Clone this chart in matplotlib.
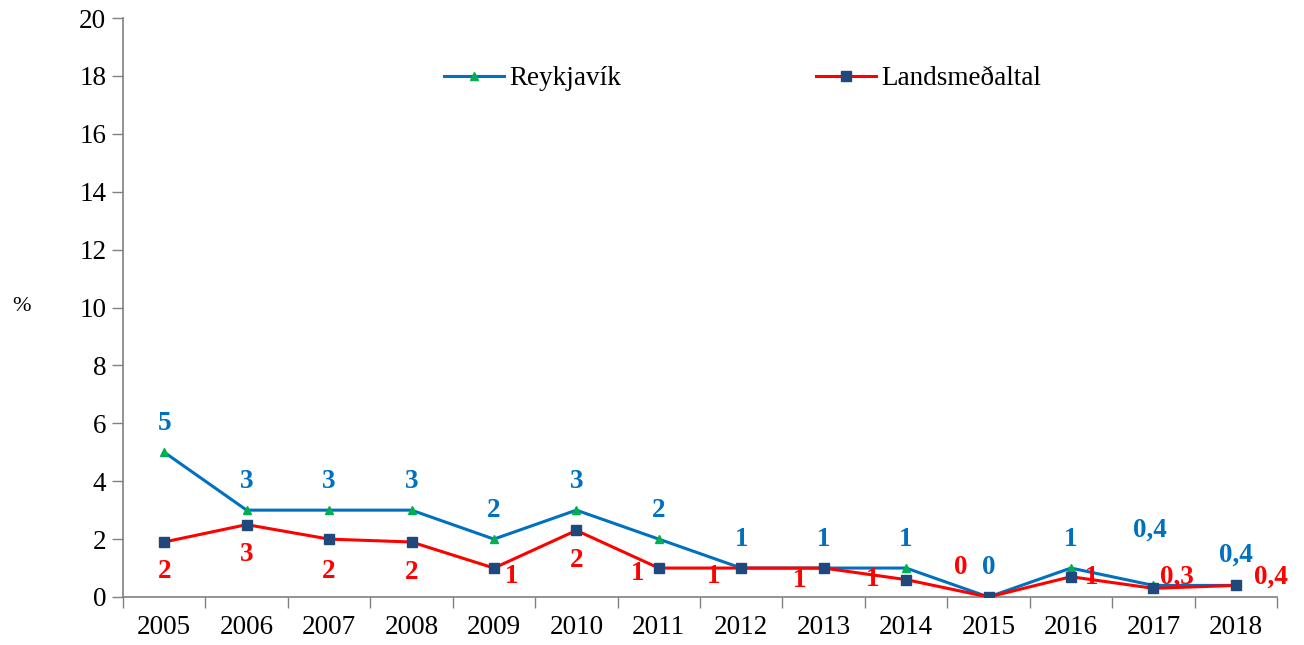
import matplotlib
matplotlib.use("Agg")
import matplotlib.pyplot as plt
import numpy as np

plt.rcParams['font.family'] = ['Liberation Serif', 'DejaVu Serif']

years = ['2005', '2006', '2007', '2008', '2009', '2010', '2011',
         '2012', '2013', '2014', '2015', '2016', '2017', '2018']
reykjavik = [5, 3, 3, 3, 2, 3, 2, 1, 1, 1, 0, 1, 0.4, 0.4]
lands = [1.9, 2.5, 2.0, 1.9, 1.0, 2.3, 1.0, 1.0, 1.0, 0.6, 0.0, 0.7, 0.3, 0.4]
reyk_labels = ['5', '3', '3', '3', '2', '3', '2', '1', '1', '1', '0', '1', '0,4', '0,4']
lands_labels = ['2', '3', '2', '2', '1', '2', '1', '1', '1', '1', '0', '1', '0,3', '0,4']

# label offsets in pixels (dx, dy)
reyk_off = [(0, 29)] * 12 + [(-3, 55), (0, 30)]
lands_off = [(0, -30), (0, -30), (0, -32), (0, -31), (18, -8), (0, -30), (-21, -5),
             (-28, -8), (-24, -12), (-33, 0), (-28, 29), (21, -1), (24, 11), (35, 8)]

blue = '#0070C0'
red = '#FF0000'

fig = plt.figure(figsize=(13.04, 6.45), dpi=100)
ax = fig.add_axes([123/1304, 48/645, 1154/1304, 579/645])

x = np.arange(len(years))
ax.plot(x, reykjavik, color=blue, lw=2.2, marker='^', ms=6,
        mfc='#00B050', mec='#00B050', label='Reykjavík', zorder=3)
ax.plot(x, lands, color=red, lw=2.2, marker='s', ms=7,
        mfc='#1F497D', mec='#1F497D', label='Landsmeðaltal', zorder=4)

for i in range(len(x)):
    ax.annotate(reyk_labels[i], (x[i], reykjavik[i]), xytext=reyk_off[i],
                textcoords='offset pixels', ha='center', va='center',
                color=blue, fontsize=19.5, fontweight='bold', zorder=5)
    ax.annotate(lands_labels[i], (x[i], lands[i]), xytext=lands_off[i],
                textcoords='offset pixels', ha='center', va='center',
                color=red, fontsize=19.5, fontweight='bold', zorder=5)

ax.set_xlim(-0.5, len(years) - 0.5)
ax.set_ylim(0, 20)
ax.set_yticks(np.arange(0, 21, 2))
ax.set_xticks(x)
ax.set_xticklabels(years)
ax.set_xticks(np.arange(-0.5, len(years), 1), minor=True)
ax.tick_params(axis='x', which='major', length=0, pad=13, labelsize=19.5)
ax.tick_params(axis='x', which='minor', length=8, color='#808080', width=1)
ax.tick_params(axis='y', length=8, color='#808080', width=1, labelsize=19.5, pad=4)

for s in ['top', 'right']:
    ax.spines[s].set_visible(False)
for s in ['left', 'bottom']:
    ax.spines[s].set_color('#808080')
    ax.spines[s].set_linewidth(1.2)

ax.set_ylabel('%', rotation=0, fontsize=16)
ax.yaxis.set_label_coords(-0.088, 0.485)

ax.legend(loc='center', bbox_to_anchor=(0.537, 0.895), ncol=2, frameon=False,
          fontsize=19.5, handlelength=2.2, handletextpad=0.2, columnspacing=7.2)

fig.savefig('out.png', dpi=100)
